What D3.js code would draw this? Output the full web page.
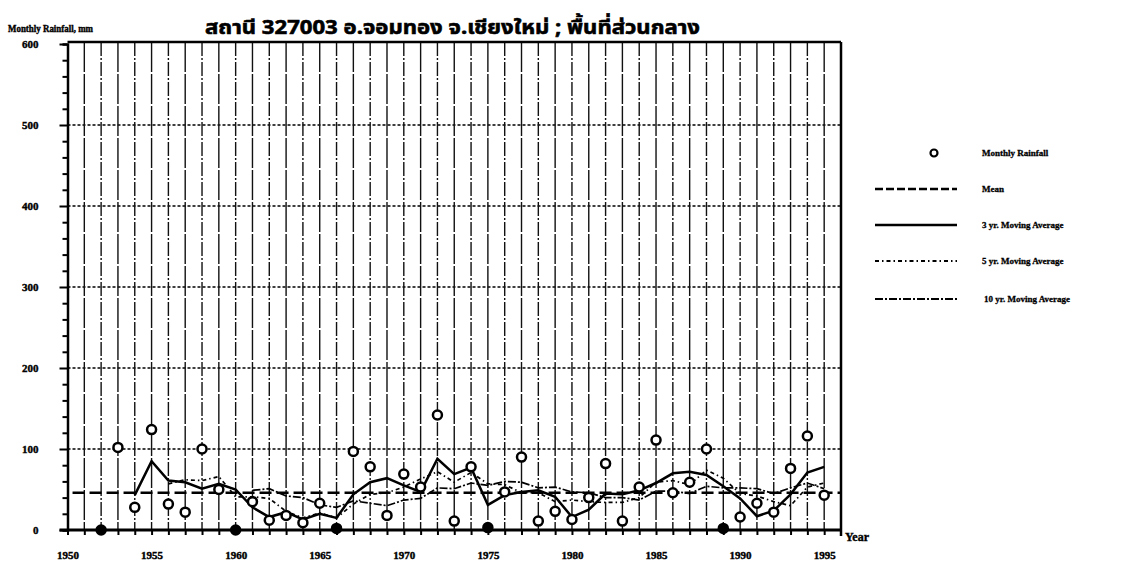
<!DOCTYPE html>
<html>
<head>
<meta charset="utf-8">
<script src="https://cdn.jsdelivr.net/npm/d3@7"></script>
<style>
  body { margin: 0; background: #fff; }
  svg text { font-family: "Liberation Serif", "DejaVu Serif", serif; font-weight: bold; fill: #000; }
</style>
</head>
<body>
<div id="chart"></div>
<script>
/* Data */
const years = d3.range(1952, 1996);
const rainfall = [0, 102, 28, 124, 32, 22, 100, 50, 0, 35,
  12, 18, 9, 33, 2, 97, 78, 18, 69, 53,
  142, 11, 78, 3, 47, 90, 11, 23, 13, 40,
  82, 11, 53, 111, 46, 59, 100, 2, 16, 33,
  22, 76, 116, 43];

// moving averages, one value per year starting at the given year
const ma3Start = 1954;
const ma3 = [43, 85, 61, 59, 51, 57, 50, 28, 16, 22,
  13, 20, 15, 44, 59, 64, 55, 47, 88, 69,
  77, 31, 43, 47, 49, 41, 16, 25, 45, 44,
  49, 58, 70, 72, 68, 54, 39, 17, 24, 44,
  71, 78];
const ma5Start = 1956;
const ma5 = [57, 62, 61, 66, 41, 41, 39, 23, 15, 21,
  15, 32, 44, 46, 53, 63, 72, 59, 71, 57,
  56, 46, 46, 35, 37, 35, 34, 34, 40, 59,
  61, 56, 74, 64, 45, 42, 35, 30, 53, 58];
const ma10Start = 1961;
const ma10 = [49, 51, 42, 40, 31, 28, 36, 33, 30, 37,
  39, 52, 51, 58, 55, 60, 59, 52, 53, 47,
  46, 40, 40, 37, 48, 48, 45, 54, 52, 52,
  51, 45, 52, 58, 51];
const meanRain = 46;

const yTicks = [0, 100, 200, 300, 400, 500, 600];
const xLabels = [1950, 1955, 1960, 1965, 1970, 1975, 1980, 1985, 1990, 1995];
const legendItems = ["Monthly Rainfall", "Mean", "3 yr. Moving Average",
  "5 yr. Moving Average", "10 yr. Moving Average"];

const titleText = "สถานี 327003 อ.จอมทอง จ.เชียงใหม่ ; พื้นที่ส่วนกลาง";

/* Layout */
const W = 1121, H = 568;
const svg = d3.select("#chart").append("svg")
  .attr("width", W).attr("height", H);

const x = d3.scaleLinear().domain([1950, 1996]).range([67.5, 841]);
const y = d3.scaleLinear().domain([0, 600]).range([530, 44]);

// horizontal grid (dotted)
svg.append("g").selectAll("line")
  .data(yTicks.filter(d => d > 0 && d < 600))
  .join("line")
    .attr("x1", x(1950)).attr("x2", x(1996))
    .attr("y1", d => y(d)).attr("y2", d => y(d))
    .attr("stroke", "#000").attr("stroke-width", 1.5)
    .attr("stroke-dasharray", "3,2");

// vertical grid at every year
svg.append("g").selectAll("line")
  .data(d3.range(1951, 1996))
  .join("line")
    .attr("x1", d => x(d)).attr("x2", d => x(d))
    .attr("y1", y(600) - 2).attr("y2", y(0))
    .attr("stroke", "#111").attr("stroke-width", 1.4)
    .attr("stroke-dasharray", (d, i) => i % 2 ? "14,2,2,2" : "30,2");

// frame: top and right
svg.append("line")
  .attr("x1", x(1950)).attr("x2", x(1996))
  .attr("y1", y(600) - 2).attr("y2", y(600) - 2)
  .attr("stroke", "#000").attr("stroke-width", 2.5);
svg.append("line")
  .attr("x1", x(1996)).attr("x2", x(1996))
  .attr("y1", y(600) - 2).attr("y2", y(0))
  .attr("stroke", "#000").attr("stroke-width", 2.5);

// y axis
const yAxis = d3.axisLeft(y)
  .tickValues(d3.range(0, 601, 20))
  .tickSize(5)
  .tickFormat(d => yTicks.includes(d) ? d : "");
const gy = svg.append("g")
  .attr("transform", `translate(${x(1950)},0)`)
  .call(yAxis);
gy.select(".domain").attr("stroke-width", 2.5);
gy.selectAll(".tick line").attr("stroke-width", 2)
  .attr("x2", d => yTicks.includes(d) ? -8 : -5);
gy.selectAll(".tick text").attr("x", -29).attr("text-anchor", "end")
  .attr("font-size", 11).attr("stroke", "#000").attr("stroke-width", 0.4);

// x axis
const xAxis = d3.axisBottom(x)
  .tickValues(d3.range(1950, 1996))
  .tickSize(5)
  .tickFormat(d => xLabels.includes(d) ? d : "");
const gx = svg.append("g")
  .attr("transform", `translate(0,${y(0)})`)
  .call(xAxis);
gx.select(".domain").attr("stroke-width", 3).attr("d", `M${x(1950) - 8},0H${x(1996)}`);
gx.selectAll(".tick line").attr("stroke-width", 2);
gx.selectAll(".tick text").attr("y", 21).attr("font-size", 11)
  .attr("stroke", "#000").attr("stroke-width", 0.4);

svg.append("text").attr("x", 845).attr("y", 541)
  .attr("font-size", 12).attr("stroke", "#000").attr("stroke-width", 0.4)
  .text("Year");
svg.append("line")
  .attr("x1", x(1996)).attr("x2", x(1996)).attr("y1", y(0)).attr("y2", y(0) + 6)
  .attr("stroke", "#000").attr("stroke-width", 2.5);

// mean line
svg.append("line")
  .attr("x1", x(1950.3)).attr("x2", x(1996))
  .attr("y1", y(meanRain)).attr("y2", y(meanRain))
  .attr("stroke", "#000").attr("stroke-width", 2.6)
  .attr("stroke-dasharray", "12,5");

// moving average lines
function maLine(values, start, width, dash) {
  const pts = values.map((v, i) => [start + i, v]);
  svg.append("path")
    .datum(pts)
    .attr("fill", "none")
    .attr("stroke", "#000")
    .attr("stroke-width", width)
    .attr("stroke-dasharray", dash)
    .attr("d", d3.line().x(d => x(d[0])).y(d => y(d[1])));
}
maLine(ma10, ma10Start, 1.7, "8,2,2,2");
maLine(ma5, ma5Start, 1.7, "4,3,1.5,3");
maLine(ma3, ma3Start, 2.5, null);

// monthly rainfall markers
svg.append("g").selectAll("circle")
  .data(years.map((yr, i) => [yr, rainfall[i]]))
  .join("circle")
    .attr("cx", d => x(d[0])).attr("cy", d => y(d[1]))
    .attr("r", 4.5)
    .attr("fill", d => d[1] < 5 ? "#000" : "#fff")
    .attr("stroke", "#000").attr("stroke-width", 2.5);

// titles
svg.append("text").attr("x", 8).attr("y", 32)
  .attr("font-size", 10).attr("textLength", 85)
  .attr("lengthAdjust", "spacingAndGlyphs")
  .attr("stroke", "#000").attr("stroke-width", 0.4)
  .text("Monthly Rainfall, mm");
svg.append("text").attr("x", 205).attr("y", 34)
  .attr("font-size", 20).attr("textLength", 495)
  .attr("lengthAdjust", "spacingAndGlyphs")
  .attr("stroke", "#000").attr("stroke-width", 0.6)
  .style("font-family", "'Noto Sans Thai', 'Noto Sans', 'DejaVu Sans', sans-serif")
  .text(titleText);

// legend
const legendY = [153, 189, 225, 261, 299];
const lg = svg.append("g");
lg.append("circle").attr("cx", 934).attr("cy", legendY[0]).attr("r", 3.5)
  .attr("fill", "#fff").attr("stroke", "#000").attr("stroke-width", 2.2);
const legendStyles = [null,
  { w: 2.4, dash: "8,3" },
  { w: 2.6, dash: null },
  { w: 1.8, dash: "4,3,1.5,3" },
  { w: 1.8, dash: "8,2,2,2" }];
legendStyles.forEach((s, i) => {
  if (!s) return;
  lg.append("line")
    .attr("x1", 875).attr("x2", 957)
    .attr("y1", legendY[i]).attr("y2", legendY[i])
    .attr("stroke", "#000").attr("stroke-width", s.w)
    .attr("stroke-dasharray", s.dash);
});
legendItems.forEach((t, i) => {
  lg.append("text").attr("x", i === 4 ? 984 : 982).attr("y", legendY[i] + 3)
    .attr("font-size", 9).attr("stroke", "#000").attr("stroke-width", 0.3)
    .text(t);
});
</script>
</body>
</html>
